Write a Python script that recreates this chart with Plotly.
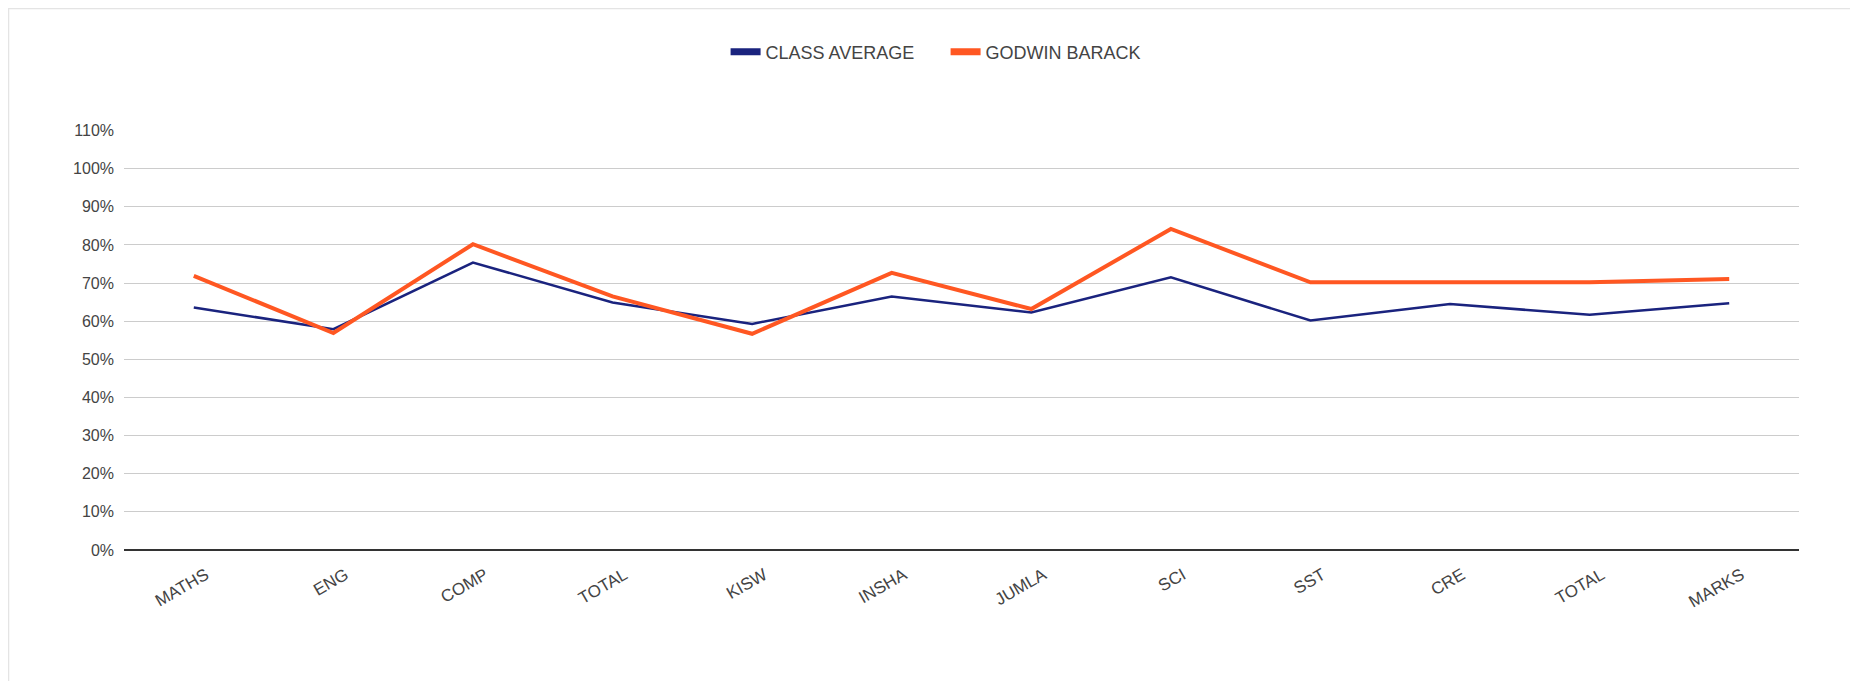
import plotly.graph_objects as go

categories = ["MATHS", "ENG", "COMP", "TOTAL", "KISW", "INSHA", "JUMLA", "SCI", "SST", "CRE", "TOTAL ", "MARKS"]
tick_labels = ["MATHS", "ENG", "COMP", "TOTAL", "KISW", "INSHA", "JUMLA", "SCI", "SST", "CRE", "TOTAL", "MARKS"]
class_average = [0.636, 0.579, 0.754, 0.649, 0.593, 0.665, 0.623, 0.715, 0.602, 0.645, 0.617, 0.647]
godwin_barack = [0.719, 0.569, 0.802, 0.665, 0.567, 0.727, 0.632, 0.842, 0.702, 0.702, 0.702, 0.711]
series_names = ["CLASS AVERAGE", "GODWIN BARACK"]
series_colors = ["#1A237E", "#FF5722"]
y_ticks = [i / 10 for i in range(0, 12)]
y_tick_labels = [f"{i * 10}%" for i in range(0, 12)]

x_idx = list(range(len(categories)))

fig = go.Figure()
fig.add_trace(go.Scatter(x=x_idx, y=class_average, mode="lines", name=series_names[0],
                         line=dict(color=series_colors[0], width=2.5), showlegend=False))
fig.add_trace(go.Scatter(x=x_idx, y=godwin_barack, mode="lines", name=series_names[1],
                         line=dict(color=series_colors[1], width=4), showlegend=False))
# legend entries (thick short swatches)
for name, color in zip(series_names, series_colors):
    fig.add_trace(go.Scatter(x=[None], y=[None], mode="lines", name=name,
                             line=dict(color=color, width=7), showlegend=True))

font_family = "Liberation Sans, Arial, sans-serif"
# page body has an 8px margin, so figure is 8px smaller than the window
W, H = 1850, 673
fig.update_layout(
    width=W, height=H,
    margin=dict(l=116, r=59, t=122, b=131),
    paper_bgcolor="white", plot_bgcolor="white",
    font=dict(family=font_family, size=16, color="#444444"),
    showlegend=True,
    legend=dict(orientation="h", x=0.4905, xanchor="center", y=1 - 44 / H, yanchor="middle",
                yref="container", font=dict(size=18, color="#444444"), itemwidth=30,
                entrywidth=175, entrywidthmode="pixels",
                traceorder="normal"),
    xaxis=dict(tickmode="array", tickvals=x_idx, ticktext=tick_labels,
               range=[-0.5, len(categories) - 0.5], tickangle=-30,
               showgrid=False, zeroline=False, showline=False, ticks="",
               ticklabelshift=12, ticklabelstandoff=11,
               tickfont=dict(size=17, color="#444444")),
    yaxis=dict(tickmode="array", tickvals=y_ticks, ticktext=y_tick_labels,
               range=[0, 1.1015], showgrid=True, gridcolor="#CCCCCC", gridwidth=1,
               zeroline=True, zerolinecolor="#333333", zerolinewidth=2,
               showline=False, ticks="", ticklen=0, ticklabelstandoff=9,
               tickfont=dict(size=16, color="#444444")),
)
pw = W - 116 - 59
ph = H - 122 - 131
fig.add_shape(type="rect", xref="paper", yref="paper",
              x0=-115.5 / pw, x1=(W - 116 + 20) / pw, y0=-(131 + 20) / ph, y1=(ph + 121.5) / ph,
              line=dict(color="#E4E4E4", width=1.5), fillcolor="rgba(0,0,0,0)", layer="below")

fig.write_html("out.html")
